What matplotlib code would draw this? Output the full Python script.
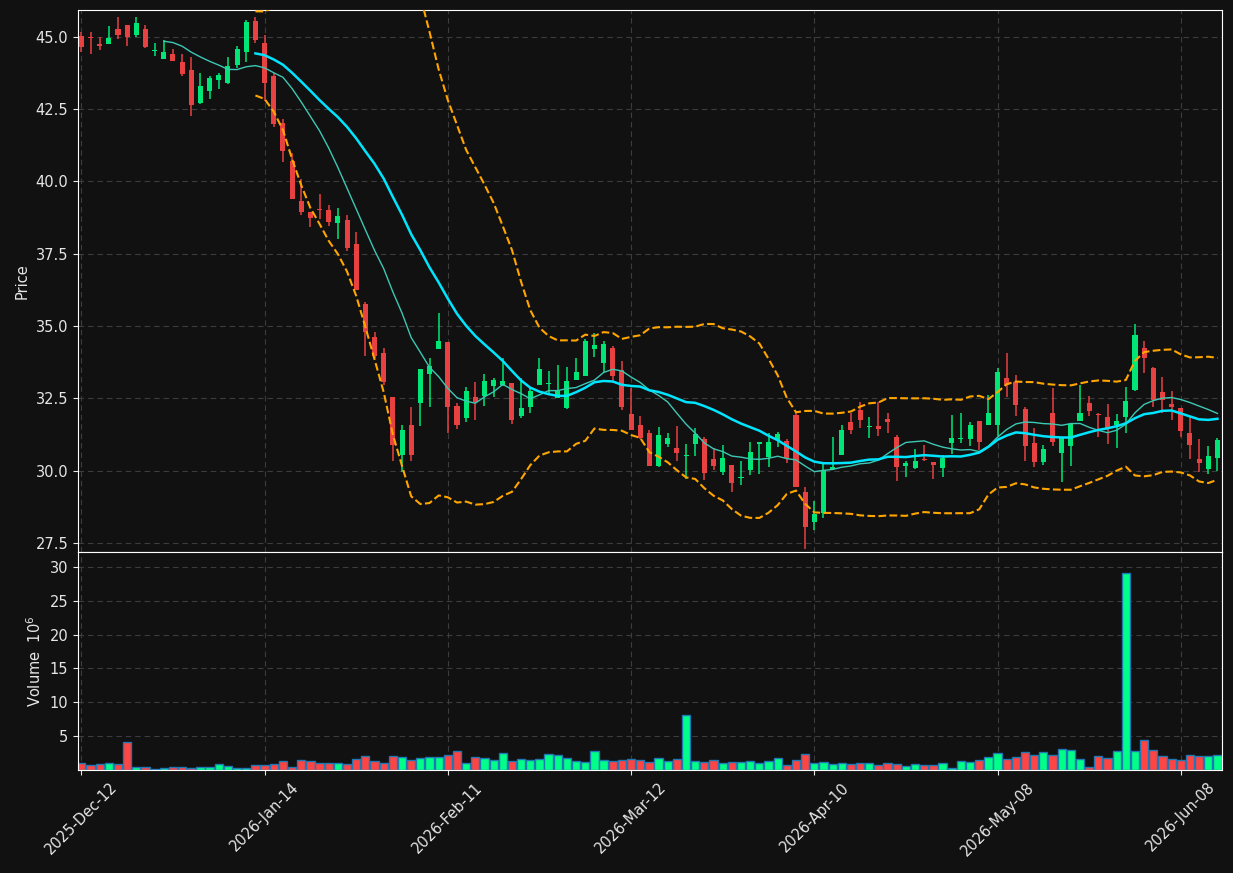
import numpy as np
import pandas as pd
import matplotlib
matplotlib.use('Agg')
import matplotlib.pyplot as plt

# 日K线数据
opens = [45.04, 44.98, 44.76, 44.77, 45.28, 45.42, 45.08, 45.28, 44.52, 44.25,
         44.40, 44.13, 43.86, 42.72, 43.14, 43.50, 43.42, 44.01, 44.49, 45.54,
         44.78, 43.65, 42.03, 40.71, 39.32, 38.96, 39.04, 39.01, 38.58, 38.67,
         37.85, 35.76, 34.62, 34.06, 32.54, 30.53, 31.57, 32.35, 33.34, 34.20,
         34.44, 32.23, 31.81, 32.55, 32.59, 32.93, 32.95, 33.04, 31.90, 32.22,
         32.98, 33.00, 32.53, 32.16, 33.13, 33.28, 34.21, 33.73, 34.24, 33.48,
         31.95, 31.59, 31.32, 30.17, 30.93, 30.78, 30.52, 30.93, 31.11, 30.39,
         29.97, 30.19, 29.76, 30.03, 30.94, 30.49, 31.05, 31.03, 31.92, 29.28,
         28.23, 28.53, 30.05, 30.54, 31.68, 32.10, 31.50, 31.56, 31.80, 31.17,
         30.17, 30.11, 30.40, 30.30, 30.11, 30.97, 31.10, 31.11, 31.71, 31.59,
         31.59, 33.22, 33.07, 32.13, 30.95, 30.30, 32.01, 30.61, 30.87, 31.71,
         32.34, 31.96, 31.86, 31.59, 31.86, 32.79, 34.26, 33.55, 32.71, 32.31,
         32.17, 31.29, 30.39, 30.06, 30.45]
highs = [45.18, 45.18, 44.99, 45.37, 45.69, 45.42, 45.69, 45.42, 44.78, 44.89,
         44.58, 44.42, 44.30, 43.74, 43.65, 43.76, 44.31, 44.70, 45.58, 45.69,
         45.06, 43.74, 42.17, 40.97, 40.07, 38.96, 39.55, 39.17, 39.07, 38.83,
         38.24, 35.82, 34.78, 34.26, 32.54, 31.57, 32.22, 33.52, 33.90, 35.44,
         34.44, 32.35, 32.89, 33.06, 33.34, 33.22, 33.91, 33.04, 33.22, 32.86,
         33.91, 33.46, 33.66, 33.58, 33.90, 34.54, 34.75, 34.48, 34.32, 33.78,
         32.86, 31.89, 31.41, 31.50, 31.29, 31.56, 30.93, 31.47, 31.17, 30.77,
         30.89, 30.19, 30.33, 30.99, 31.01, 31.32, 31.35, 31.11, 32.01, 29.45,
         28.97, 30.27, 31.17, 31.59, 32.01, 32.37, 31.86, 32.37, 31.98, 31.23,
         30.35, 30.75, 30.89, 30.30, 30.54, 31.93, 32.01, 31.68, 31.71, 32.61,
         33.54, 34.06, 33.30, 32.19, 31.47, 30.89, 32.86, 31.14, 31.62, 32.98,
         32.58, 32.01, 32.29, 31.95, 32.89, 35.06, 34.48, 33.58, 33.24, 32.74,
         32.17, 31.89, 31.08, 30.85, 31.14]
lows = [44.49, 44.40, 44.54, 44.75, 44.94, 44.68, 45.00, 44.60, 44.34, 44.25,
        44.18, 43.64, 42.26, 42.68, 42.84, 43.18, 43.38, 43.94, 44.12, 44.78,
        42.78, 41.90, 40.67, 39.40, 38.83, 38.42, 38.71, 38.45, 38.00, 37.60,
        36.26, 33.96, 33.88, 32.97, 30.33, 29.97, 30.33, 31.53, 32.19, 34.20,
        31.29, 31.44, 31.68, 31.74, 32.25, 32.55, 32.93, 31.63, 31.83, 32.01,
        32.98, 32.68, 32.53, 32.13, 33.13, 33.28, 33.94, 33.40, 33.04, 32.10,
        31.41, 31.11, 30.15, 30.13, 30.81, 30.35, 29.73, 30.51, 29.67, 30.03,
        29.85, 29.25, 29.49, 29.86, 29.88, 30.13, 30.81, 30.27, 29.45, 27.29,
        27.96, 28.35, 30.03, 30.54, 31.26, 31.47, 31.14, 31.21, 31.29, 29.64,
        29.79, 30.05, 30.33, 29.73, 29.79, 30.57, 30.95, 30.85, 30.73, 31.59,
        31.21, 32.55, 31.89, 30.33, 30.13, 30.21, 30.87, 29.61, 30.17, 31.71,
        31.89, 31.17, 30.93, 30.78, 31.29, 32.77, 33.37, 32.22, 32.01, 31.77,
        31.17, 30.39, 29.97, 29.88, 30.00]
closes = [44.66, 44.95, 44.70, 44.96, 45.08, 45.00, 45.48, 44.64, 44.55, 44.48,
          44.18, 43.70, 42.63, 43.30, 43.58, 43.69, 44.00, 44.58, 45.52, 44.88,
          43.42, 41.99, 41.07, 39.40, 38.93, 38.72, 39.00, 38.61, 38.81, 37.71,
          36.26, 34.78, 33.96, 33.08, 30.89, 31.40, 30.53, 33.52, 33.62, 34.49,
          32.19, 31.57, 32.76, 32.37, 33.10, 33.13, 33.10, 31.75, 32.17, 32.76,
          33.52, 33.03, 32.76, 33.10, 33.43, 34.48, 34.33, 34.38, 33.28, 32.19,
          31.41, 31.14, 30.17, 31.23, 31.14, 30.60, 30.56, 31.27, 29.91, 30.15,
          30.45, 29.58, 29.80, 30.63, 30.97, 30.99, 31.26, 30.45, 29.45, 28.04,
          28.50, 30.03, 30.12, 31.40, 31.41, 31.75, 31.52, 31.45, 31.69, 30.13,
          30.27, 30.33, 30.37, 30.21, 30.45, 31.14, 31.13, 31.59, 31.01, 31.98,
          33.40, 32.98, 32.28, 30.87, 30.30, 30.75, 30.99, 31.14, 31.62, 32.01,
          32.07, 31.93, 31.47, 31.71, 32.41, 34.69, 33.88, 32.46, 32.46, 32.22,
          31.39, 30.89, 30.25, 30.51, 31.05]
# 成交量（百万）
volume_m = [0.99, 0.69, 0.84, 0.99, 0.84, 4.09, 0.49, 0.39, 0.10, 0.25,
            0.49, 0.49, 0.35, 0.49, 0.49, 0.84, 0.54, 0.35, 0.35, 0.69,
            0.69, 0.84, 1.28, 0.39, 1.43, 1.28, 0.99, 0.99, 0.99, 0.84,
            1.58, 2.02, 1.28, 0.99, 2.02, 1.87, 1.43, 1.73, 1.87, 1.87,
            2.17, 2.76, 0.99, 1.87, 1.73, 1.43, 2.47, 1.28, 1.58, 1.43,
            1.58, 2.32, 2.17, 1.73, 1.28, 1.13, 2.76, 1.43, 1.28, 1.43,
            1.58, 1.43, 1.13, 1.73, 1.28, 1.58, 8.09, 1.28, 1.13, 1.43,
            0.99, 1.13, 1.13, 1.28, 0.99, 1.28, 1.73, 0.69, 1.43, 2.32,
            0.99, 1.13, 0.84, 0.99, 0.84, 0.99, 0.99, 0.69, 0.99, 0.84,
            0.64, 0.84, 0.69, 0.69, 0.99, 0.25, 1.28, 1.13, 1.43, 1.87,
            2.47, 1.58, 1.87, 2.61, 2.17, 2.61, 2.17, 3.06, 2.91, 1.58,
            0.39, 2.02, 1.73, 2.76, 29.09, 2.76, 4.39, 2.91, 2.02, 1.58,
            1.43, 2.17, 2.02, 2.02, 2.17]
tick_labels = ['2025-Dec-12', '2026-Jan-14', '2026-Feb-11', '2026-Mar-12',
               '2026-Apr-10', '2026-May-08', '2026-Jun-08']
tick_step = 20

BG = '#111111'
UP, DOWN = '#00e676', '#e84142'
VOL_UP, VOL_DOWN = '#00ff88', '#ff4444'


def style_axis(ax):
    """深色背景坐标轴样式"""
    ax.set_facecolor(BG)
    for sp in ax.spines.values():
        sp.set_color('white')
    ax.tick_params(colors='#e6e6e6', labelsize=10.5)
    ax.grid(True, color='#3c3c3c', linestyle=(0, (5, 3.5)), linewidth=0.8)
    ax.set_axisbelow(True)


df = pd.DataFrame({'open': opens, 'high': highs, 'low': lows,
                   'close': closes, 'vol': volume_m})
x = np.arange(len(df))
up = df['close'] >= df['open']

# 均线与布林带
sma10 = df['close'].rolling(10).mean()
sma20 = df['close'].rolling(20).mean()
std20 = df['close'].rolling(20).std(ddof=0)
bb_up = sma20 + 2 * std20
bb_dn = sma20 - 2 * std20

fig = plt.figure(figsize=(12.33, 8.73), dpi=100, facecolor=BG)
ax1 = fig.add_axes([0.0633, 0.3677, 0.9278, 0.6209])
ax2 = fig.add_axes([0.0633, 0.1180, 0.9278, 0.2497], sharex=ax1)
style_axis(ax1)
style_axis(ax2)

# K线
colors = np.where(up, UP, DOWN)
body_lo = np.minimum(df['open'], df['close'])
body_h = np.maximum((df['close'] - df['open']).abs(), 0.04)
ax1.vlines(x, df['low'], df['high'], colors=colors, linewidth=1.1, zorder=2)
ax1.bar(x, body_h, bottom=body_lo, width=0.55, color=colors, zorder=3)

ax1.plot(x, sma10, color='#3cc8b4', linewidth=1.0, zorder=4)
ax1.plot(x, sma20, color='#00e5ff', linewidth=1.8, zorder=4)
ax1.plot(x, bb_up, color='#ffa500', linestyle='--', linewidth=1.5, zorder=4)
ax1.plot(x, bb_dn, color='#ffa500', linestyle='--', linewidth=1.5, zorder=4)

ax1.set_ylim(27.19, 45.93)
ax1.set_yticks(np.arange(27.5, 45.01, 2.5))
ax1.yaxis.set_major_formatter(plt.FormatStrFormatter('%.1f'))
ax1.set_ylabel('Price', color='#e6e6e6', fontsize=10.5)
ax1.tick_params(axis='x', labelbottom=False, length=0)

# 成交量
vcolors = np.where(up, VOL_UP, VOL_DOWN)
ax2.bar(x, df['vol'], width=0.9, color=vcolors, edgecolor='#1f77b4', linewidth=1.0)
ax2.set_ylim(0, 32.2)
ax2.set_yticks([5, 10, 15, 20, 25, 30])
ax2.set_ylabel('Volume  $10^6$', color='#e6e6e6', fontsize=10.5)

ax2.set_xlim(-0.36, len(df) - 0.5)
ax2.set_xticks(x[::tick_step])
ax2.set_xticklabels(tick_labels, rotation=45, ha='center')

fig.savefig('out.png', dpi=100, facecolor=BG)
